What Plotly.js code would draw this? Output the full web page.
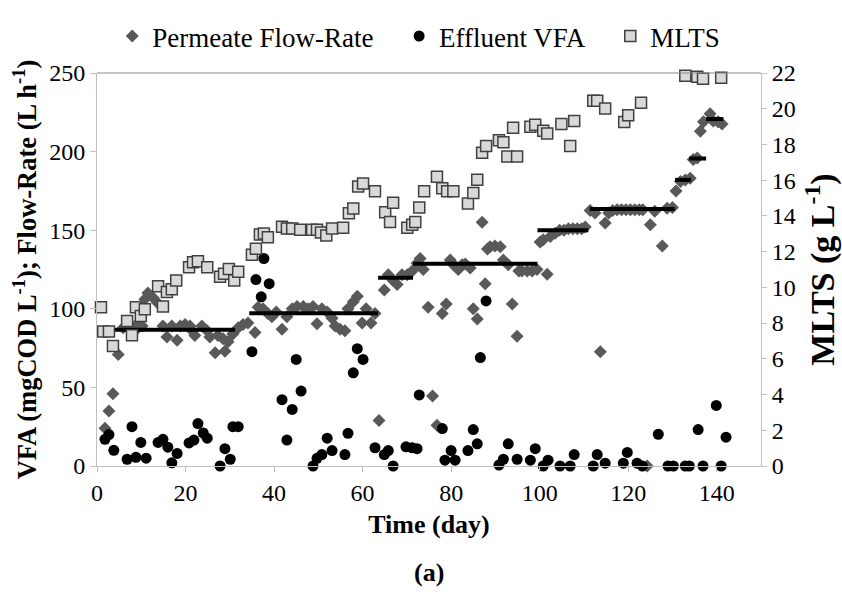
<!DOCTYPE html>
<html>
<head>
<meta charset="utf-8">
<script src="https://cdn.plot.ly/plotly-3.0.1.min.js"></script>
<style>html,body{margin:0;padding:0;background:#fff;}#chart{width:842px;height:595px;}</style>
</head>
<body>
<div id="chart"></div>
<script>
// Permeate flow-rate (L/h)
const flowDays = [1.8,2.7,3.6,4.8,5.9,7.0,8.6,9.3,10.2,10.8,11.5,12.7,13.6,14.9,15.8,16.9,18.1,18.8,19.9,21.0,21.5,22.1,23.7,24.9,25.5,26.7,27.3,28.5,28.9,29.6,30.7,31.9,33.0,34.1,
  35.7,36.4,37.5,38.6,39.5,40.5,41.8,42.9,44.1,45.2,46.6,47.7,48.8,49.7,50.8,52.0,53.1,53.8,54.9,56.0,56.7,57.9,58.8,59.9,60.8,61.9,62.8,63.7,
  64.9,65.8,66.9,67.8,68.9,70.1,71.2,72.3,73.0,73.7,74.8,75.8,76.8,78.0,78.9,79.8,80.5,81.6,82.5,83.2,84.3,85.0,85.9,87.0,87.7,88.2,88.8,89.9,91.1,91.8,92.9,93.8,94.9,95.3,96.0,97.2,98.3,99.4,
  100.1,100.8,101.7,102.4,103.5,104.5,105.5,106.5,107.5,108.5,109.5,110.3,
  111.4,112.5,113.7,114.8,115.6,116.5,117.5,118.5,119.5,120.5,121.5,122.5,123.3,124.3,125.0,126.0,127.7,128.8,130.0,
  130.8,131.8,132.9,134.0,134.7,135.6,136.3,137.0,138.5,139.2,140.3,141.2];
const flowRate = [24,35,46,71,88,88,89,88,89,106,110,107,104,89,82,89,80,89,90,89,86,83,89,86,82,72,83,81,73,79,84,88,90,91,
  85,101,100,97,95,98,87,95,100,101.5,101.5,100,101.5,90.5,100,98,94,89,87,86,100,104.5,108,91,100,91,97,29,
  112,121.6,118,115.5,121.6,121.6,124,129,132,125,101,44.5,26,97,103,131,128,125,128,128.5,126,100,93.5,155,116,138,139.5,140,139.5,131,128,103,82.5,124,124,124,124,125,
  142.5,144,122,146,148,150,150,151,151,151,151,152,
  162.5,161,72.7,154.6,161,162.5,163,163,163,163,163,163,163,0,153.5,162,140,164,164.5,
  175,181,182,183,195,196,213,219,224,219.5,219,217.5];

// Flow-rate set-point segments
const segStart = [1.8,34.4,63.5,71.4,99.5,111.3,130.6,133.8,137.6];
const segEnd   = [31.2,63.5,71.4,99.5,111.0,130.5,134.2,137.6,141.5];
const segValue = [86.6,97.2,119.8,128.7,150,163.5,182,195.6,220.7];

// Effluent VFA (mgCOD/L)
const vfaDays = [1.8,2.7,3.8,6.8,7.9,8.8,9.9,11.1,13.8,14.9,16.0,16.9,18.1,20.8,21.9,22.8,24.0,24.9,27.8,28.9,30.1,30.7,31.9,
  35.0,35.9,37.1,37.7,38.9,41.8,42.9,44.1,45.0,46.1,48.8,49.7,50.8,52.0,53.1,56.0,56.7,57.9,58.8,60.1,62.8,64.9,65.8,66.9,69.8,71.2,72.3,72.8,
  78.0,78.6,80.0,80.9,83.8,85.0,85.9,86.6,87.9,90.8,91.8,92.9,94.9,97.9,99.0,100.8,101.9,104.6,106.9,107.8,112.1,113.0,114.8,118.9,119.8,122.0,123.2,
  126.8,129.0,130.2,132.9,133.8,135.8,136.9,139.9,141.0,142.1];
const vfa = [17,20,10,4.3,25,5.5,15,5,15,17,12,2,8,14.7,16.5,27,21,17.7,0,11,4.3,25,25,
  72.7,118.6,107.6,132,116,42.2,16.5,36,67.8,47.7,0,4.9,7.3,17.7,9.8,7.3,20.8,59.3,74.6,67.8,11.6,7.3,9.8,0,12.2,11.6,11,45.2,
  23.8,3.7,9.8,3.7,9.8,23.2,14.1,69,105,0.6,4.3,14.1,4.3,3.7,11,0,3.7,0,0,7.3,0,7.3,1.8,1.8,8.6,1.8,0,
  20.2,0,0,0,0,23.2,0,38.5,0,18.3];

// MLTS (g/L)
const mltsDays = [0.9,1.4,2.7,3.6,6.8,7.9,8.8,9.9,10.8,13.8,14.9,15.8,16.9,17.9,20.8,21.7,22.8,24.9,27.8,28.7,29.8,31.0,31.9,
  35.0,35.9,36.8,37.7,38.6,41.8,42.9,44.1,45.9,48.6,49.7,50.6,51.8,53.1,55.6,56.9,57.9,59.0,60.1,62.8,65.1,66.2,66.9,
  70.1,71.2,71.9,72.8,73.9,76.8,78.0,79.1,80.5,83.8,85.0,85.9,87.0,87.9,90.8,91.8,92.7,94.0,94.9,97.9,99.0,100.8,101.7,
  104.9,106.9,107.8,112.1,113.0,114.8,119.1,120.0,122.9,132.9,135.6,136.9,141.0];
const mlts = [8.88,7.53,7.53,6.72,8.12,7.32,8.88,8.39,8.77,10.06,8.93,9.74,9.90,10.38,11.13,11.40,11.46,11.13,10.60,10.76,11.03,10.38,10.87,
  11.83,12.16,12.96,13.02,12.80,13.39,13.29,13.29,13.23,13.23,13.23,13.07,12.91,13.29,13.34,14.15,14.42,15.65,15.82,15.38,14.20,13.66,14.74,
  13.34,13.50,13.66,14.47,15.38,16.19,15.55,15.38,15.38,14.69,15.28,16.03,17.54,17.91,18.24,18.13,17.32,18.93,17.32,18.99,19.10,18.77,18.61,
  19.15,17.91,19.31,20.44,20.44,20.01,19.26,19.63,20.33,21.84,21.79,21.68,21.73];

const xTicks = [0,20,40,60,80,100,120,140];
const yTicks = [0,50,100,150,200,250];
const y2Ticks = [0,2,4,6,8,10,12,14,16,18,20,22];

const FONT = 'Liberation Serif';

// build segment line arrays
const segX = [], segY = [];
for (let i = 0; i < segStart.length; i++) {
  segX.push(segStart[i], segEnd[i], null);
  segY.push(segValue[i], segValue[i], null);
}

const traces = [
  {x: flowDays, y: flowRate, type: 'scatter', mode: 'markers', name: 'Permeate Flow-Rate',
   marker: {symbol: 'diamond', size: 10, color: '#595959'}, legend: 'legend', cliponaxis: false},
  {x: segX, y: segY, type: 'scatter', mode: 'lines', showlegend: false, hoverinfo: 'skip',
   line: {color: '#000000', width: 4}},
  {x: vfaDays, y: vfa, type: 'scatter', mode: 'markers', name: 'Effluent VFA',
   marker: {symbol: 'circle', size: 11, color: '#000000'}, legend: 'legend2', cliponaxis: false},
  {x: mltsDays, y: mlts, type: 'scatter', mode: 'markers', name: 'MLTS', yaxis: 'y2',
   marker: {symbol: 'square', size: 11, color: '#d9d9d9', line: {color: '#404040', width: 1.5}}, legend: 'legend3', cliponaxis: false}
];

function legendAt(x) {
  return {orientation: 'h', yanchor: 'middle', y: 1.093, xanchor: 'left', x: x,
    font: {family: FONT, size: 27, color: '#000'}, bgcolor: 'rgba(0,0,0,0)', itemwidth: 30};
}

const layout = {
  width: 842, height: 595,
  margin: {l: 97, r: 81, t: 57, b: 129},
  paper_bgcolor: '#ffffff', plot_bgcolor: '#ffffff',
  font: {family: FONT, size: 24, color: '#000'},
  showlegend: true,
  legend: legendAt(0.023),
  legend2: legendAt(0.455),
  legend3: legendAt(0.773),
  xaxis: {
    range: [0, 150], tickvals: xTicks, ticktext: xTicks.map(String),
    showgrid: false, zeroline: false, showline: true, linecolor: '#bfbfbf', linewidth: 1,
    ticks: 'outside', ticklen: 5, tickcolor: '#bfbfbf',
    tickfont: {family: FONT, size: 24, color: '#000'},
    title: {text: '<b>Time (day)</b>', font: {family: FONT, size: 26, color: '#000'}, standoff: 10}
  },
  yaxis: {
    range: [0, 250], tickvals: yTicks, ticktext: yTicks.map(String),
    showgrid: false, zeroline: false, showline: true, linecolor: '#bfbfbf', linewidth: 1,
    ticks: 'outside', ticklen: 6, tickcolor: '#bfbfbf',
    tickfont: {family: FONT, size: 24, color: '#000'},
    title: {text: '<b>VFA (mgCOD L<sup>-1</sup>); Flow-Rate (L h<sup>-1</sup>)</b>', font: {family: FONT, size: 26.5, color: '#000'}, standoff: 4}
  },
  yaxis2: {
    range: [0, 22], tickvals: y2Ticks, ticktext: y2Ticks.map(String),
    overlaying: 'y', side: 'right',
    showgrid: false, zeroline: false, showline: true, linecolor: '#bfbfbf', linewidth: 1,
    ticks: 'outside', ticklen: 5, tickcolor: '#bfbfbf',
    tickfont: {family: FONT, size: 24, color: '#000'},
    title: {text: '<b>MLTS (g L<sup>-1</sup>)</b>', font: {family: FONT, size: 34, color: '#000'}, standoff: 18}
  },
  shapes: [
    {type: 'line', xref: 'paper', yref: 'paper', x0: 0, x1: 1, y0: 1, y1: 1, line: {color: '#888888', width: 1}}
  ],
  annotations: [
    {text: '<b>(a)</b>', xref: 'paper', yref: 'paper', x: 0.5, y: -0.271, xanchor: 'center', yanchor: 'middle',
     showarrow: false, font: {family: FONT, size: 26, color: '#000'}}
  ]
};

Plotly.newPlot('chart', traces, layout, {displayModeBar: false, staticPlot: true});
</script>
</body>
</html>
